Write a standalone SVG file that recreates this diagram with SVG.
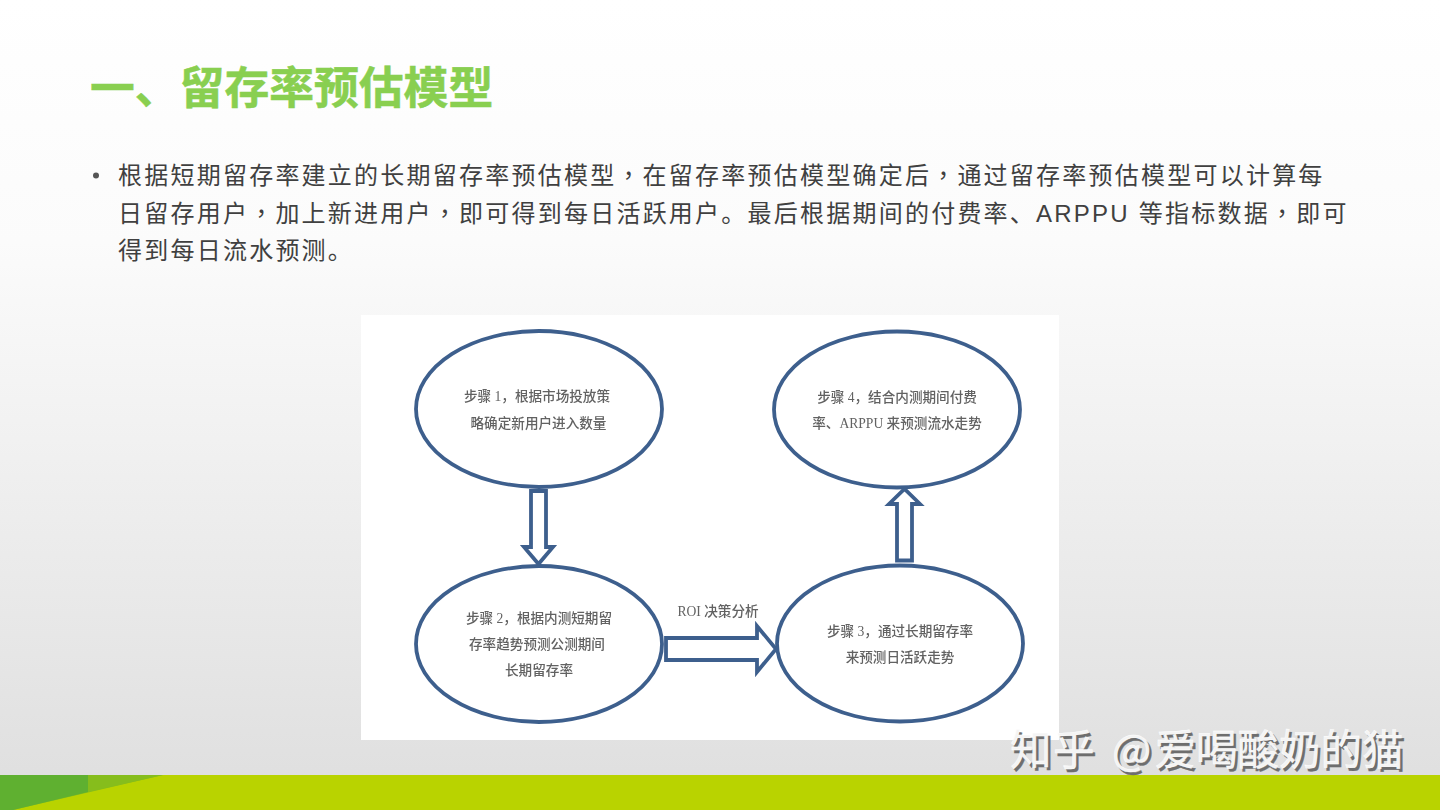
<svg xmlns="http://www.w3.org/2000/svg" width="1440" height="810" viewBox="0 0 1440 810">
<defs>
<linearGradient id="bg" x1="0" y1="0" x2="0" y2="1"><stop offset="0" stop-color="#ffffff"/><stop offset="0.3" stop-color="#fbfbfb"/><stop offset="1" stop-color="#dedede"/></linearGradient>
<filter id="soft" x="-5%" y="-5%" width="110%" height="110%"><feGaussianBlur stdDeviation="0.5"/></filter>
</defs>
<style>
.cjk{font-family:"Noto Sans CJK SC","Liberation Sans",sans-serif}
.title{font-size:44.8px;font-weight:700;fill:#89cf50;stroke:#89cf50;stroke-width:.5}
.body{font-size:24px;fill:#404040;letter-spacing:2.23px;font-family:"Liberation Sans","Noto Sans CJK SC",sans-serif}
.c{font-family:"Noto Sans CJK TC",sans-serif}
.node{fill:#fff;stroke:#3e5f8d;stroke-width:3.8}
.arrow{fill:#fff;stroke:#3e5f8d;stroke-width:3.8;stroke-linejoin:miter}
.lab{font-family:"Liberation Serif","Noto Sans CJK SC",serif;font-size:13.6px;font-weight:500;fill:#626262;text-anchor:middle}
.wm{font-size:41.5px;fill:#f4f4f4;stroke:#fff;stroke-width:.4;font-family:"Noto Sans CJK SC",sans-serif}
.wms{font-size:41.5px;fill:#6e6e6e;stroke:#6e6e6e;stroke-width:.4;font-family:"Noto Sans CJK SC",sans-serif}
</style>
<rect width="1440" height="810" fill="url(#bg)"/>
<g id="footer">
<rect y="775" width="1440" height="35" fill="#b9d300"/>
<polygon points="0,775 163,775 13,810 0,810" fill="#86bd1c"/>
<polygon points="0,775 88,775 88,792 13,810 0,810" fill="#5fb030"/>
<polygon points="88,775 163,775 88,792" fill="#86bd1c"/>
</g>
<text class="cjk title" x="90" y="104">一、留存率预估模型</text>
<g id="bullet">
<circle cx="96" cy="175.500" r="3" fill="#555"/>
<text class="body" x="118" y="184">根据短期留存率建立的长期留存率预估模型<tspan class="c">，</tspan>在留存率预估模型确定后<tspan class="c">，</tspan>通过留存率预估模型可以计算每</text>
<text class="body" x="118" y="222">日留存用户<tspan class="c">，</tspan>加上新进用户<tspan class="c">，</tspan>即可得到每日活跃用户。最后根据期间的付费率、ARPPU 等指标数据<tspan class="c">，</tspan>即可</text>
<text class="body" x="118" y="259">得到每日流水预测。</text>
</g>
<rect id="figure" x="361" y="315" width="698" height="425" fill="#ffffff"/>
<g filter="url(#soft)">
<g id="connectors">
<polygon class="arrow" points="531,491 546,491 546,547 553,547 538.500,564 524,547 531,547"/>
<polygon class="arrow" points="897,560.500 912,560.500 912,504 920,504 904.500,489 889,504 897,504"/>
<polygon class="arrow" points="666,638 757,638 757,626 776,649 757,672 757,660 666,660"/>
<text class="lab" x="718" y="616">ROI 决策分析</text>
</g>
<g id="step1">
<ellipse class="node" cx="539" cy="409" rx="123" ry="78"/>
<text class="lab" x="537" y="401">步骤 1，根据市场投放策</text>
<text class="lab" x="538.500" y="428">略确定新用户进入数量</text>
</g>
<g id="step2">
<ellipse class="node" cx="539" cy="644" rx="123" ry="78"/>
<text class="lab" x="539" y="623">步骤 2，根据内测短期留</text>
<text class="lab" x="537" y="649">存率趋势预测公测期间</text>
<text class="lab" x="539" y="675">长期留存率</text>
</g>
<g id="step3">
<ellipse class="node" cx="900" cy="643.500" rx="123" ry="78"/>
<text class="lab" x="900" y="636">步骤 3，通过长期留存率</text>
<text class="lab" x="900" y="662">来预测日活跃走势</text>
</g>
<g id="step4">
<ellipse class="node" cx="897" cy="409.500" rx="123" ry="78"/>
<text class="lab" x="897" y="402">步骤 4，结合内测期间付费</text>
<text class="lab" x="897" y="428">率、ARPPU 来预测流水走势</text>
</g>
</g>
<g id="watermark">
<text class="wms" y="767.500"><tspan x="1012.500" letter-spacing="1.5">知乎 </tspan><tspan x="1114.500">@</tspan><tspan x="1157">爱喝酸奶的猫</tspan></text>
<text class="wm" y="765"><tspan x="1010" letter-spacing="1.5">知乎 </tspan><tspan x="1112">@</tspan><tspan x="1154.500">爱喝酸奶的猫</tspan></text>
</g>
</svg>
